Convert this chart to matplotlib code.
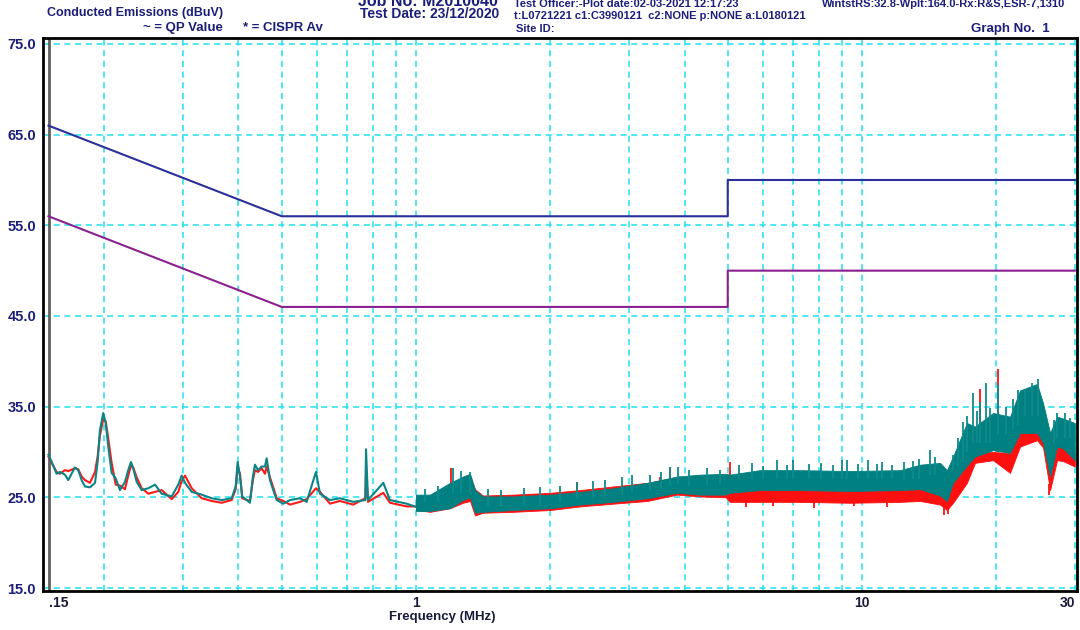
import matplotlib
matplotlib.use("Agg")
import matplotlib.pyplot as plt
import matplotlib.transforms as mtransforms

plt.rcParams['font.family'] = ['Liberation Sans', 'DejaVu Sans']

# limit lines (MHz, dBuV)
qp_f = [0.15, 0.5, 5.0, 5.0, 30.0]
qp_db = [66.0, 56.0, 56.0, 60.0, 60.0]
av_f = [0.15, 0.5, 5.0, 5.0, 30.0]
av_db = [56.0, 46.0, 46.0, 50.0, 50.0]

# low band scan, 0.15 - 1 MHz
low_f = [0.150, 0.1525, 0.1564, 0.1591, 0.1633, 0.1661, 0.1719, 0.1749, 0.178, 0.1811,
         0.1858, 0.1907, 0.1933, 0.1956, 0.199, 0.2015, 0.2042, 0.2078, 0.2122, 0.2169,
         0.2226, 0.2264, 0.2296, 0.2323, 0.2365, 0.2427, 0.2511, 0.26, 0.269, 0.2834,
         0.2931, 0.2983, 0.3035, 0.3142, 0.3307, 0.3482, 0.3667, 0.3862, 0.3942, 0.3983,
         0.4031, 0.4078, 0.4243, 0.4309, 0.4355, 0.4423, 0.4508, 0.4586, 0.4626, 0.4706,
         0.4786, 0.4872, 0.5041, 0.5219, 0.5494, 0.5686, 0.5967, 0.6092, 0.6414, 0.6755,
         0.7235, 0.77, 0.7726, 0.7807, 0.8447, 0.8744, 0.953, 1.021, 1.075]
teal_low = [29.7, 28.9, 27.6, 27.8, 27.5, 26.9, 28.3, 28.0, 26.9, 26.2,
            26.1, 26.6, 28.9, 32.4, 34.3, 33.2, 30.6, 27.7, 27.1, 25.8,
            26.7, 28.0, 28.9, 28.2, 26.7, 25.8, 26.0, 26.4, 25.4, 25.1,
            26.4, 27.4, 26.6, 25.6, 25.3, 24.9, 24.7, 24.9, 26.2, 28.9,
            27.3, 25.1, 24.4, 27.3, 28.6, 28.0, 28.4, 28.4, 29.3, 26.9,
            25.8, 24.7, 24.3, 24.7, 24.9, 24.5, 27.8, 25.4, 24.7, 24.9,
            24.5, 24.7, 30.3, 24.7, 26.6, 24.7, 24.3, 23.8, 24.4]
red_low = [29.5, 28.8, 27.8, 27.6, 28.0, 27.9, 28.2, 28.1, 27.3, 26.9,
           26.6, 27.8, 29.5, 31.8, 33.6, 33.4, 31.5, 28.8, 26.4, 26.3,
           25.9, 27.4, 28.5, 28.3, 27.2, 26.0, 25.4, 25.6, 25.8, 24.8,
           25.6, 26.8, 27.4, 26.0, 24.9, 24.6, 24.4, 24.7, 25.9, 28.3,
           27.6, 24.9, 24.6, 26.9, 28.0, 27.8, 28.2, 27.6, 28.4, 27.2,
           26.1, 24.9, 24.6, 24.2, 24.5, 24.8, 26.0, 25.6, 24.3, 24.6,
           24.2, 24.9, 28.0, 24.5, 25.5, 24.4, 24.0, 24.0, 24.3]

# upper scan, 1 - 30 MHz, noise envelope
band_f = [1.0, 1.075, 1.192, 1.275, 1.322, 1.356, 1.413, 1.65, 2.0, 2.33,
          2.77, 3.3, 3.85, 4.33, 4.95, 5.05, 5.9, 7.26, 9.4, 12.17,
          13.5, 14.96, 15.5, 16.0, 17.19, 17.92, 19.67, 21.47, 22.61, 24.69,
          25.46, 26.4, 27.37, 28.23, 30.0]
teal_lo = [23.5, 23.5, 23.8, 24.7, 25.0, 23.3, 23.4, 23.6, 23.8, 24.2,
           24.5, 24.9, 25.5, 25.3, 25.3, 25.5, 25.8, 25.8, 25.7, 25.8,
           25.9, 25.2, 24.6, 26.6, 28.5, 29.5, 30.2, 29.9, 32.1, 32.1,
           31.0, 27.3, 30.6, 30.4, 29.1]
teal_hi = [25.3, 25.3, 26.6, 27.3, 27.6, 25.8, 25.1, 25.1, 25.3, 25.6,
           26.0, 26.6, 27.3, 27.5, 27.6, 27.5, 28.0, 28.0, 27.9, 28.0,
           28.6, 28.8, 28.0, 29.5, 33.2, 32.8, 34.3, 33.9, 36.8, 37.5,
           35.4, 32.1, 33.9, 33.7, 33.2]
red_lo = [23.6, 23.4, 23.8, 24.4, 24.6, 23.0, 23.3, 23.4, 23.6, 24.0,
          24.3, 24.6, 25.3, 25.1, 25.0, 24.5, 24.5, 24.5, 24.4, 24.5,
          24.6, 24.2, 23.6, 24.4, 26.6, 28.8, 29.1, 27.7, 30.6, 31.3,
          30.5, 25.8, 29.1, 29.0, 28.4]
red_hi = [25.0, 25.2, 26.4, 27.0, 27.4, 25.9, 25.2, 25.3, 25.5, 25.8,
          26.2, 26.6, 27.2, 27.2, 27.0, 26.0, 26.4, 26.4, 26.3, 26.3,
          26.4, 26.0, 25.2, 26.6, 28.8, 29.9, 30.0, 29.9, 32.8, 33.2,
          32.0, 27.7, 30.6, 30.5, 29.9]

# single-bin peaks sticking out of the noise floor: freq, start, end
teal_pk_f = [1.05, 1.12, 1.21, 1.26, 1.32, 1.45, 1.55, 1.75, 1.9, 2.1,
             2.3, 2.5, 2.65, 2.9, 3.05, 3.35, 3.55, 3.71, 3.87, 4.1,
             4.5, 4.8, 5.3, 5.67, 6.0, 6.45, 6.8, 7.0, 7.6, 8.1,
             8.6, 9.0, 9.25, 9.8, 10.3, 10.8, 11.1, 11.7, 12.4, 13.0,
             13.4, 14.2, 14.6, 16.0, 16.4, 16.8, 17.2, 17.7, 18.1, 18.4,
             19.0, 19.4, 20.2, 21.0, 21.8, 22.4, 23.2, 24.0, 24.8, 26.9,
             27.4, 28.5, 29.3]
teal_pk_lo = [24.5, 24.5, 25.5, 25.5, 25.5, 24.0, 24.0, 24.2, 24.2, 24.5,
              24.8, 25.0, 25.0, 25.3, 25.5, 25.8, 26.0, 26.3, 26.5, 26.3,
              26.4, 26.4, 27.0, 27.0, 27.0, 27.0, 27.0, 27.0, 27.0, 27.0,
              27.0, 27.0, 27.0, 27.0, 27.0, 27.0, 27.0, 27.0, 27.0, 27.0,
              27.0, 27.5, 27.5, 28.0, 28.5, 29.0, 30.0, 31.0, 31.0, 31.0,
              31.0, 31.0, 32.0, 32.0, 32.5, 33.0, 34.0, 34.0, 34.0, 31.0,
              31.5, 31.5, 31.5]
teal_pk_hi = [25.9, 26.3, 28.2, 27.9, 27.8, 25.9, 25.8, 26.0, 26.1, 26.3,
              26.7, 26.8, 26.9, 27.2, 27.5, 27.5, 27.8, 28.3, 28.4, 28.0,
              28.2, 28.0, 28.6, 28.8, 28.5, 29.1, 28.6, 29.1, 28.7, 28.8,
              28.6, 29.1, 29.1, 28.7, 29.1, 28.7, 28.9, 28.6, 28.9, 29.0,
              29.2, 30.2, 29.4, 29.7, 31.5, 33.3, 34.0, 36.5, 34.5, 35.5,
              37.6, 34.8, 37.4, 35.0, 35.8, 36.8, 37.0, 37.6, 38.1, 33.5,
              34.3, 34.3, 33.8]
red_pk_f = [1.20, 2.30, 3.52, 3.71, 5.05, 5.5, 6.3, 7.8, 9.6, 11.4,
            15.3, 15.6, 18.4, 19.0, 20.2, 26.2]
red_pk_lo = [25.0, 25.0, 26.0, 26.0, 25.5, 25.0, 25.0, 25.0, 25.0, 25.0,
             24.0, 24.0, 30.0, 30.0, 30.0, 26.5]
red_pk_hi = [28.2, 26.7, 27.2, 28.4, 28.9, 23.9, 24.0, 23.8, 24.0, 23.9,
             23.0, 23.2, 37.0, 33.0, 39.1, 25.3]

navy = '#1c1f7a'
grid_c = '#22e0ee'

fig = plt.figure(figsize=(10.8, 6.3), dpi=100)
ax = fig.add_axes([43 / 1080, 1 - 591 / 630, 1034 / 1080, 553 / 630])
ax.set_xscale('log')
ax.set_xlim(0.1458, 30.34)
ax.set_ylim(14.67, 75.66)

grid_x = [0.2, 0.3, 0.4, 0.5, 0.6, 0.7, 0.8, 0.9, 1, 2, 3, 4, 5, 6, 7, 8, 9, 10, 20, 30]
for gx in grid_x:
    ax.axvline(gx, color=grid_c, lw=1.1, ls=(0, (4, 3)), zorder=1)
for gy in [15, 25, 35, 45, 55, 65, 75]:
    ax.axhline(gy, color=grid_c, lw=1.1, ls=(0, (4, 3)), zorder=1)
ax.axvline(0.15, color='#606060', lw=2, zorder=2)

ax.set_xticks([])
ax.set_xticks([], minor=True)
ax.set_yticks([15, 25, 35, 45, 55, 65, 75])
ax.set_yticklabels(['%.1f' % v for v in [15, 25, 35, 45, 55, 65, 75]],
                   fontweight='bold', fontsize=10.5, color=navy)
ax.tick_params(axis='y', length=0, pad=5)
for s in ax.spines.values():
    s.set_linewidth(2)
    s.set_color('black')

# limits
ax.plot(qp_f, qp_db, color='#2b2f9a', lw=1.5, zorder=3)
ax.plot(av_f, av_db, color='#8a2090', lw=1.5, zorder=3)

# red trace
ax.plot(low_f, red_low, color='#ff1a1a', lw=1.5, zorder=4)
ax.fill_between(band_f, red_lo, red_hi, color='#ff1010', lw=0.6, zorder=4)
ax.vlines(red_pk_f, red_pk_lo, red_pk_hi, color='#ff1010', lw=1.3, zorder=4)

# teal trace
ax.plot(low_f, teal_low, color='#0a8585', lw=1.5, zorder=5)
ax.fill_between(band_f, teal_lo, teal_hi, color='#008080', lw=0.6, zorder=5)
ax.vlines(teal_pk_f, teal_pk_lo, teal_pk_hi, color='#0f8a8a', lw=1.3, zorder=5)

# frequency labels
trans = mtransforms.blended_transform_factory(ax.transData, fig.transFigure)
ty = 1 - 603 / 630
for f, s, ha in [(0.15, '.15', 'left'), (1.0, '1', 'center'),
                 (10.0, '10', 'center'), (30.0, '30', 'right')]:
    ax.text(f, ty, s, transform=trans, ha=ha, va='center', fontsize=10,
            fontweight='bold', color='#1a1a3a')
fig.text(442 / 1080, 1 - 617 / 630, 'Frequency (MHz)', ha='center', va='center',
         fontsize=9.5, fontweight='bold', color='#1a1a3a')

# header block
def head(x, y, s, size=9, ha='left', color=navy):
    fig.text(x / 1080, 1 - y / 630, s, ha=ha, va='center', fontsize=size,
             fontweight='bold', color=color)

head(47, 13, 'Conducted Emissions (dBuV)', 9)
head(223, 28, '~ = QP Value', 9.5, ha='right')
head(243, 28, '* = CISPR Av', 9.5)
head(358, 1, 'Job No: M2010040', 11.5)
head(360, 14, 'Test Date: 23/12/2020', 10)
head(514, 4, 'Test Officer:-Plot date:02-03-2021 12:17:23', 8)
head(514, 16, 't:L0721221 c1:C3990121  c2:NONE p:NONE a:L0180121', 8)
head(516, 29, 'Site ID:', 8)
head(822, 4, 'WintstRS:32.8-Wplt:164.0-Rx:R&S,ESR-7,1310', 8)
head(971, 29, 'Graph No.  1', 9.5)

fig.savefig('out.png', dpi=100)
